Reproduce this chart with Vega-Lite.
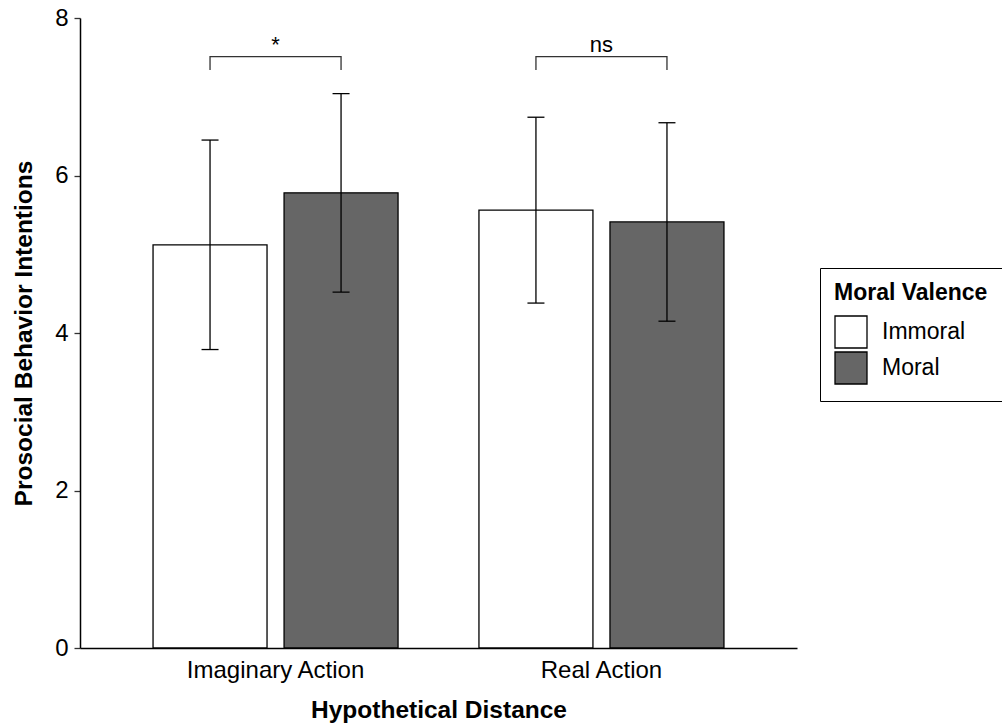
{
  "$schema": "https://vega.github.io/schema/vega-lite/v6.json",
  "width": 717,
  "height": 630,
  "autosize": {"type": "none"},
  "padding": {"left": 80, "top": 18, "right": 205, "bottom": 80},
  "background": "white",
  "config": {
    "view": {"stroke": null},
    "font": "Liberation Sans",
    "axis": {
      "grid": false,
      "domainColor": "black",
      "domainWidth": 1.5,
      "tickColor": "#333333",
      "tickWidth": 1.3,
      "tickSize": 6,
      "labelFont": "Liberation Sans",
      "labelFontSize": 24,
      "labelColor": "black",
      "labelPadding": 6,
      "titleFont": "Liberation Sans",
      "titleFontSize": 24.5,
      "titleFontWeight": "bold",
      "titleColor": "black",
      "titlePadding": 16
    },
    "legend": {
      "titleFont": "Liberation Sans",
      "titleFontSize": 23,
      "titleFontWeight": "bold",
      "titleColor": "black",
      "labelFont": "Liberation Sans",
      "labelFontSize": 23,
      "labelColor": "black",
      "padding": 14,
      "strokeColor": "black",
      "titlePadding": 10,
      "rowPadding": -3,
      "labelOffset": 14,
      "symbolType": "square",
      "symbolSize": 1024,
      "symbolStrokeColor": "black",
      "symbolStrokeWidth": 1.3,
      "symbolOpacity": 1
    }
  },
  "datasets": {
    "bars": [
      {"dist": "Imaginary Action", "valence": "Immoral", "mean": 5.12, "lo": 3.79, "hi": 6.45},
      {"dist": "Imaginary Action", "valence": "Moral", "mean": 5.78, "lo": 4.52, "hi": 7.04},
      {"dist": "Real Action", "valence": "Immoral", "mean": 5.56, "lo": 4.38, "hi": 6.74},
      {"dist": "Real Action", "valence": "Moral", "mean": 5.41, "lo": 4.15, "hi": 6.67}
    ],
    "brackets": [
      {"dist": "Imaginary Action", "valence": "Immoral", "y": 7.34, "order": 1},
      {"dist": "Imaginary Action", "valence": "Immoral", "y": 7.51, "order": 2},
      {"dist": "Imaginary Action", "valence": "Moral", "y": 7.51, "order": 3},
      {"dist": "Imaginary Action", "valence": "Moral", "y": 7.34, "order": 4},
      {"dist": "Real Action", "valence": "Immoral", "y": 7.34, "order": 1},
      {"dist": "Real Action", "valence": "Immoral", "y": 7.51, "order": 2},
      {"dist": "Real Action", "valence": "Moral", "y": 7.51, "order": 3},
      {"dist": "Real Action", "valence": "Moral", "y": 7.34, "order": 4}
    ],
    "labels": [
      {"dist": "Imaginary Action", "label": "*", "y": 7.57},
      {"dist": "Real Action", "label": "ns", "y": 7.57}
    ]
  },
  "layer": [
    {
      "data": {"name": "bars"},
      "mark": {"type": "bar", "stroke": "black", "strokeWidth": 1.3},
      "encoding": {
        "x": {
          "field": "dist", "type": "nominal", "title": "Hypothetical Distance",
          "scale": {"domain": ["Imaginary Action", "Real Action"], "paddingInner": 0.2, "paddingOuter": 0.2},
          "axis": {"labelAngle": 0, "ticks": false, "labelPadding": 10, "titlePadding": 16}
        },
        "xOffset": {
          "field": "valence", "type": "nominal",
          "scale": {"domain": ["Immoral", "Moral"], "paddingInner": 0.13, "paddingOuter": 0.06}
        },
        "y": {
          "field": "mean", "type": "quantitative", "title": "Prosocial Behavior Intentions",
          "scale": {"domain": [0, 8], "nice": false, "zero": true},
          "axis": {"values": [0, 2, 4, 6, 8], "format": "d", "titlePadding": 18}
        },
        "fill": {
          "field": "valence", "type": "nominal",
          "scale": {"domain": ["Immoral", "Moral"], "range": ["#ffffff", "#666666"]},
          "legend": {"title": "Moral Valence", "orient": "none", "legendX": 740, "legendY": 250}
        }
      }
    },
    {
      "data": {"name": "bars"},
      "mark": {"type": "rule", "color": "black", "strokeWidth": 1.3},
      "encoding": {
        "x": {"field": "dist", "type": "nominal", "title": "Hypothetical Distance"},
        "xOffset": {"field": "valence", "type": "nominal"},
        "y": {"field": "lo", "type": "quantitative", "title": "Prosocial Behavior Intentions"},
        "y2": {"field": "hi"}
      }
    },
    {
      "data": {"name": "bars"},
      "mark": {"type": "tick", "orient": "horizontal", "size": 17, "thickness": 1.3, "color": "black", "opacity": 1},
      "encoding": {
        "x": {"field": "dist", "type": "nominal", "title": "Hypothetical Distance"},
        "xOffset": {"field": "valence", "type": "nominal"},
        "y": {"field": "hi", "type": "quantitative", "title": "Prosocial Behavior Intentions"}
      }
    },
    {
      "data": {"name": "bars"},
      "mark": {"type": "tick", "orient": "horizontal", "size": 17, "thickness": 1.3, "color": "black", "opacity": 1},
      "encoding": {
        "x": {"field": "dist", "type": "nominal", "title": "Hypothetical Distance"},
        "xOffset": {"field": "valence", "type": "nominal"},
        "y": {"field": "lo", "type": "quantitative", "title": "Prosocial Behavior Intentions"}
      }
    },
    {
      "data": {"name": "brackets"},
      "mark": {"type": "line", "color": "#333333", "strokeWidth": 1.3},
      "encoding": {
        "x": {"field": "dist", "type": "nominal", "title": "Hypothetical Distance"},
        "xOffset": {"field": "valence", "type": "nominal"},
        "y": {"field": "y", "type": "quantitative", "title": "Prosocial Behavior Intentions"},
        "detail": {"field": "dist"},
        "order": {"field": "order", "type": "quantitative"}
      }
    },
    {
      "data": {"name": "labels"},
      "mark": {"type": "text", "fontSize": 22, "baseline": "alphabetic", "color": "black", "font": "Liberation Sans"},
      "encoding": {
        "x": {"field": "dist", "type": "nominal", "title": "Hypothetical Distance"},
        "y": {"field": "y", "type": "quantitative", "title": "Prosocial Behavior Intentions"},
        "text": {"field": "label"}
      }
    }
  ]
}
